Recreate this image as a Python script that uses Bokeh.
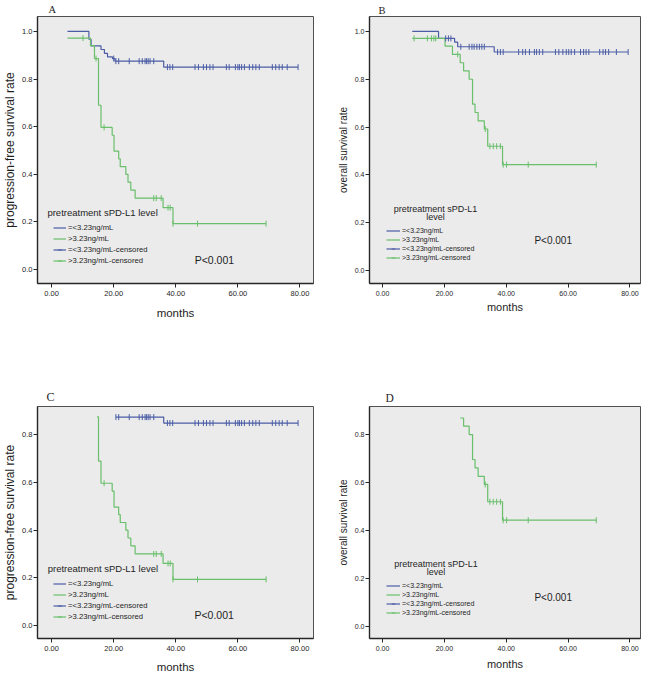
import numpy as np
from bokeh.plotting import figure
from bokeh.models import Range1d, FixedTicker, NumeralTickFormatter, Label, Legend, LegendItem
from bokeh.layouts import column, row
from bokeh.embed import file_html
from bokeh.resources import INLINE

# ---------------- data ----------------
x_ticks = [0, 20, 40, 60, 80]
y_ticks_full = [0.0, 0.2, 0.4, 0.6, 0.8, 1.0]
y_ticks_part = [0.0, 0.2, 0.4, 0.6, 0.8]
legend_labels = ["=<3.23ng/mL", ">3.23ng/mL", "=<3.23ng/mL-censored", ">3.23ng/mL-censored"]
legend_title = "pretreatment sPD-L1 level"
legend_title_l1 = "pretreatment sPD-L1"
legend_title_l2 = "level"
p_text = "P<0.001"
panel_letters = ["A", "B", "C", "D"]

# Panel A: progression-free survival
a_low_t = [5.1, 12.0, 12.7, 15.9, 17.0, 18.0, 19.6, 20.4, 36.1, 79.4]
a_low_s = [1.000, 0.967, 0.939, 0.924, 0.908, 0.893, 0.886, 0.875, 0.850, 0.850]
a_low_cens = [20.0, 20.7, 21.6, 25.0, 28.2, 29.2, 30.1, 30.6, 31.1, 31.7, 32.9,
              37.3, 38.1, 39.0, 46.2, 47.3, 48.9, 49.9, 51.0, 52.0, 56.3, 57.2,
              59.2, 60.0, 60.5, 61.2, 62.1, 63.7, 64.8, 65.8, 66.9, 71.1, 72.2,
              73.3, 74.3, 75.9, 79.4]
a_high_t = [5.1, 12.5, 13.8, 15.1, 15.9, 19.5, 20.1, 21.6, 22.1, 23.9, 24.6, 25.5, 26.9, 35.9, 39.1, 69.1]
a_high_s = [0.972, 0.940, 0.886, 0.690, 0.597, 0.564, 0.497, 0.465, 0.432, 0.400, 0.367, 0.334, 0.300, 0.260, 0.193, 0.193]
a_high_cens = [10.1, 14.3, 16.9, 32.9, 33.7, 35.3, 37.5, 38.2, 39.1, 47.0, 69.1]

# Panel B: overall survival
b_low_t = [9.6, 18.1, 23.3, 24.3, 36.1, 79.4]
b_low_s = [1.000, 0.971, 0.955, 0.936, 0.914, 0.914]
b_low_cens = [20.4, 21.3, 22.1, 25.3, 28.0, 28.9, 29.6, 30.5, 31.3, 32.1, 32.9,
              37.2, 38.1, 39.0, 44.0, 45.3, 46.2, 47.5, 49.1, 49.8, 50.7, 51.8,
              55.9, 57.0, 58.3, 59.4, 60.2, 61.0, 62.1, 64.0, 65.0, 65.8, 66.7,
              70.2, 71.3, 72.1, 73.1, 75.6, 79.4]
b_high_t = [9.6, 20.2, 22.6, 25.1, 26.2, 28.0, 29.1, 29.9, 30.9, 32.9, 34.0, 38.8, 69.1]
b_high_s = [0.971, 0.939, 0.904, 0.869, 0.835, 0.800, 0.696, 0.661, 0.626, 0.592, 0.520, 0.443, 0.443]
b_high_cens = [10.2, 14.5, 15.8, 16.6, 17.2, 24.3, 33.2, 34.7, 35.8, 36.9, 38.1, 39.0, 40.1, 47.1, 69.1]

# Panel C: progression-free survival, truncated view
c_low_t = [20.7, 36.1, 79.4]
c_low_s = [0.875, 0.850, 0.850]
c_low_cens = [20.7, 21.6, 25.0, 28.2, 29.2, 30.1, 30.6, 31.1, 31.7, 32.9,
              37.3, 38.1, 39.0, 46.2, 47.3, 48.9, 49.9, 51.0, 52.0, 56.3, 57.2,
              59.2, 60.0, 60.5, 61.2, 62.1, 63.7, 64.8, 65.8, 66.9, 71.1, 72.2,
              73.3, 74.3, 75.9, 79.4]
c_high_t = [14.6, 15.1, 15.9, 19.5, 20.1, 21.6, 22.1, 23.9, 24.6, 25.5, 26.9, 35.9, 39.1, 69.1]
c_high_s = [0.876, 0.690, 0.597, 0.564, 0.497, 0.465, 0.432, 0.400, 0.367, 0.334, 0.300, 0.260, 0.193, 0.193]
c_high_cens = [16.9, 32.9, 33.7, 35.3, 37.5, 38.2, 39.1, 47.0, 69.1]

# Panel D: overall survival, truncated view (only the high group is drawn)
d_low_t = []
d_low_s = []
d_low_cens = []
d_high_t = [25.1, 26.2, 28.0, 29.1, 29.9, 30.9, 32.9, 34.0, 38.8, 69.1]
d_high_s = [0.869, 0.835, 0.800, 0.696, 0.661, 0.626, 0.592, 0.520, 0.443, 0.443]
d_high_cens = [33.2, 34.7, 35.8, 36.9, 38.1, 39.0, 40.1, 47.1, 69.1]

# ---------------- style ----------------
BLUE = "#4B5DA6"
GREEN = "#69BF6B"
BG = "#EBEBEB"
SANS = "Liberation Sans"
SERIF = "Liberation Serif"
INK = "#1E1E1E"


def surv_at(ts, ss, t):
    val = ss[0] if ss else 0
    for ti, si in zip(ts, ss):
        if ti <= t + 1e-9:
            val = si
    return val


def build(spec):
    l, r, t, b = spec["borders"]
    p = figure(width=spec["w"], height=spec["h"],
               x_range=Range1d(*spec["xr"]), y_range=Range1d(*spec["yr"]),
               output_backend="svg", toolbar_location=None,
               min_border_left=l, min_border_right=r,
               min_border_top=t, min_border_bottom=b)
    p.background_fill_color = BG
    p.border_fill_color = "white"
    p.outline_line_color = "#505050"
    p.outline_line_width = 1
    p.xgrid.visible = False
    p.ygrid.visible = False

    # panel letter as the figure title
    txt, off, stand, lsize = spec["letter"]
    p.title.text = txt
    p.title.text_font = SERIF
    p.title.text_font_size = lsize
    p.title.text_font_style = "normal"
    p.title.text_color = INK
    p.title.align = "left"
    p.title.offset = off
    p.title.standoff = stand

    p.xaxis.ticker = FixedTicker(ticks=x_ticks)
    p.xaxis.formatter = NumeralTickFormatter(format="0.00")
    p.yaxis.ticker = FixedTicker(ticks=spec["yticks"])
    p.yaxis.formatter = NumeralTickFormatter(format="0.0")
    p.xaxis.axis_label = "months"
    p.yaxis.axis_label = spec["ylabel"]
    for ax in (p.xaxis[0], p.yaxis[0]):
        ax.axis_line_color = "#262626"
        ax.axis_line_width = 1.4
        ax.major_tick_line_color = "#262626"
        ax.major_tick_line_width = 1
        ax.major_tick_in = 0
        ax.major_tick_out = 4
        ax.minor_tick_line_color = None
        ax.major_label_text_font = SANS
        ax.major_label_text_font_size = spec["tick_size"]
        ax.major_label_text_color = INK
        ax.axis_label_text_font = SANS
        ax.axis_label_text_font_style = "normal"
        ax.axis_label_text_color = INK
    p.xaxis.major_label_standoff = spec["xtick_standoff"]
    p.yaxis.major_label_standoff = 1
    p.xaxis.axis_label_text_font_size = spec["xlabel_size"]
    p.yaxis.axis_label_text_font_size = spec["ylabel_size"]
    p.xaxis.axis_label_standoff = spec["xlabel_standoff"]
    p.yaxis.axis_label_standoff = spec["ylabel_standoff"]

    lt, ls, lc, ht, hs, hc = spec["curves"]
    r_low = p.step(x=lt, y=ls, mode="after", line_color=BLUE, line_width=1.2)
    r_high = p.step(x=ht, y=hs, mode="after", line_color=GREEN, line_width=1.2)
    c_low = p.scatter(x=lc, y=[surv_at(lt, ls, v) for v in lc], marker="dash",
                      angle=np.pi / 2, size=6, line_color=BLUE, line_width=1)
    c_high = p.scatter(x=hc, y=[surv_at(ht, hs, v) for v in hc], marker="dash",
                       angle=np.pi / 2, size=6, line_color=GREEN, line_width=1)

    # legend swatches: when a group has no drawn points in this panel, use an
    # invisible (NaN) proxy so the legend still shows its swatch
    def proxy_line(rend, color, has_data):
        if has_data:
            return rend
        return p.line(x=[np.nan], y=[np.nan], line_color=color, line_width=1.2)

    def proxy_tick(rend, color, has_data):
        if has_data:
            return rend
        return p.scatter(x=[np.nan], y=[np.nan], marker="dash", angle=np.pi / 2,
                         size=6, line_color=color, line_width=1)

    lo_line = proxy_line(r_low, BLUE, len(lt) > 0)
    hi_line = proxy_line(r_high, GREEN, len(ht) > 0)
    lo_tick = proxy_tick(c_low, BLUE, len(lc) > 0)
    hi_tick = proxy_tick(c_high, GREEN, len(hc) > 0)

    lg = spec["legend"]
    items = [LegendItem(label=legend_labels[0], renderers=[lo_line]),
             LegendItem(label=legend_labels[1], renderers=[hi_line]),
             LegendItem(label=legend_labels[2], renderers=[lo_line, lo_tick]),
             LegendItem(label=legend_labels[3], renderers=[hi_line, hi_tick])]
    leg = Legend(items=items, location=lg["loc"], orientation="vertical",
                 label_text_font=SANS, label_text_font_size=lg["font"],
                 label_text_color=INK, glyph_width=lg["gw"], glyph_height=lg["rh"],
                 label_height=lg["rh"], label_standoff=2, spacing=0, padding=0,
                 margin=0, border_line_alpha=0, background_fill_alpha=0)
    p.add_layout(leg)

    for (txt, tx, ty, align) in spec["titles"]:
        p.add_layout(Label(x=tx, y=ty, text=txt, text_font=SANS,
                           text_font_size=spec["title_size"], text_color=INK,
                           text_align=align, text_baseline="middle"))
    px, py, psize = spec["pval"]
    p.add_layout(Label(x=px, y=py, text=p_text, text_font=SANS, text_font_size=psize,
                       text_color=INK, text_align="left", text_baseline="middle"))
    return p


spec_a = dict(w=330, h=326, borders=(34, 17, 16, 41), xr=(-4.56, 84.37), yr=(-0.0583, 1.0625),
              yticks=y_ticks_full, ylabel="progression-free survival rate",
              ylabel_size="12px", xlabel_size="11.5px", tick_size="7.5px",
              ylabel_standoff=2, xlabel_standoff=8, xtick_standoff=3,
              curves=(a_low_t, a_low_s, a_low_cens, a_high_t, a_high_s, a_high_cens),
              legend=dict(loc=(16, 17), rh=11, gw=13, font="7.7px"),
              letter=(panel_letters[0], 11, 3, "10.5px"),
              titles=[(legend_title, -1.37, 0.240, "left")], title_size="9.5px",
              pval=(46.1, 0.042, "10.5px"))

spec_b = dict(w=318, h=326, borders=(39, 8, 15, 43), xr=(-4.22, 83.4), yr=(-0.054, 1.0625),
              yticks=y_ticks_full, ylabel="overall survival rate",
              ylabel_size="10px", xlabel_size="11px", tick_size="7px",
              ylabel_standoff=3, xlabel_standoff=2, xtick_standoff=3,
              curves=(b_low_t, b_low_s, b_low_cens, b_high_t, b_high_s, b_high_cens),
              legend=dict(loc=(17, 21), rh=9, gw=14, font="7px"),
              letter=(panel_letters[1], 9, 2, "10.5px"),
              titles=[(legend_title_l1, 17.1, 0.259, "center"),
                      (legend_title_l2, 17.1, 0.225, "center")], title_size="9px",
              pval=(49.1, 0.124, "10px"))

spec_c = dict(w=330, h=350, borders=(34, 17, 80, 36), xr=(-4.56, 84.37), yr=(-0.0554, 0.9196),
              yticks=y_ticks_part, ylabel="progression-free survival rate",
              ylabel_size="12px", xlabel_size="11.5px", tick_size="7.5px",
              ylabel_standoff=2, xlabel_standoff=7, xtick_standoff=3,
              curves=(c_low_t, c_low_s, c_low_cens, c_high_t, c_high_s, c_high_cens),
              legend=dict(loc=(16, 16), rh=11, gw=13, font="7.7px"),
              letter=(panel_letters[2], 9, 6, "12px"),
              titles=[(legend_title, -1.27, 0.239, "left")], title_size="9.5px",
              pval=(46.0, 0.042, "10.5px"))

spec_d = dict(w=318, h=350, borders=(39, 8, 80, 38), xr=(-4.22, 83.4), yr=(-0.05, 0.917),
              yticks=y_ticks_part, ylabel="overall survival rate",
              ylabel_size="10px", xlabel_size="11px", tick_size="7px",
              ylabel_standoff=3, xlabel_standoff=4, xtick_standoff=3,
              curves=(d_low_t, d_low_s, d_low_cens, d_high_t, d_high_s, d_high_cens),
              legend=dict(loc=(17, 21), rh=9, gw=14, font="7px"),
              letter=(panel_letters[3], 16, 6, "11.5px"),
              titles=[(legend_title_l1, 17.3, 0.262, "center"),
                      (legend_title_l2, 17.3, 0.229, "center")], title_size="9px",
              pval=(49.1, 0.121, "10px"))

pA = build(spec_a)
pB = build(spec_b)
pC = build(spec_c)
pD = build(spec_d)

layout = column(row(pA, pB), row(pC, pD))
open("out.html", "w").write(file_html(layout, INLINE, "sPD-L1 Kaplan-Meier"))
